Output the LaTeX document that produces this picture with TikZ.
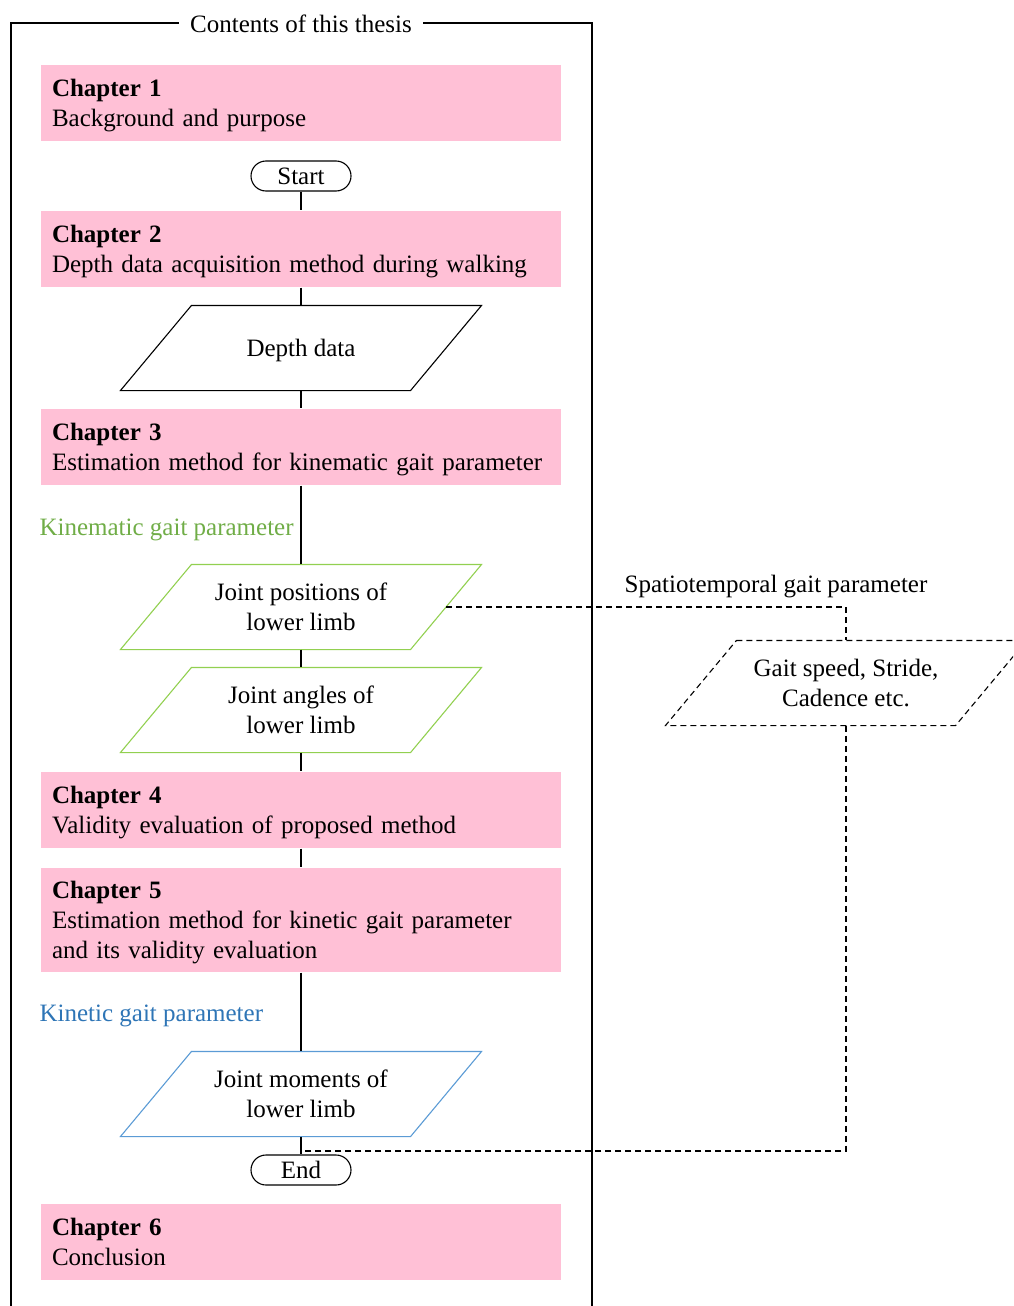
\documentclass[tikz,border=0pt]{standalone}
\usepackage{fontspec}
\setmainfont{Liberation Serif}
\definecolor{chpink}{RGB}{255,192,214}
\definecolor{kinemgreen}{RGB}{112,173,71}
\definecolor{kinemline}{RGB}{146,208,80}
\definecolor{kinetblue}{RGB}{46,117,182}
\definecolor{kinetline}{RGB}{91,155,213}
\tikzset{
  chapbox/.style={rectangle, fill=chpink, text width=498pt, inner xsep=11pt,
    minimum height=76pt, text height=22pt, align=left},
  terminal/.style={rectangle, draw, rounded corners=15pt, minimum width=100pt,
    minimum height=30pt, inner sep=0pt},
  databox/.style={rectangle, minimum width=289pt, minimum height=84pt,
    inner sep=0pt, text depth=-3.5pt, align=center,
    append after command={\pgfextra{\draw[#1]
      ([xshift=35.5pt]\tikzlastnode.north west) -- ([xshift=35.5pt]\tikzlastnode.north east)
      -- ([xshift=-35.5pt]\tikzlastnode.south east) -- ([xshift=-35.5pt]\tikzlastnode.south west)
      -- cycle;}}},
  databox/.default=black,
  sidelabel/.style={inner sep=0pt, text depth=0pt},
}
\begin{document}
\begin{tikzpicture}[x=1pt, y=-1pt, line width=1.1pt,
    font=\fontsize{25}{30}\selectfont]
    \useasboundingbox (0, 0) rectangle (1013, 1306);
    \clip (0, 0) rectangle (1013, 1306);
    % frame
    \draw (11, 1330) -- (11, 23) -- (592, 23) -- (592, 1330);
    \node[fill=white, inner xsep=11pt, inner ysep=2pt] (title) at (301, 24) {Contents of this thesis};
    % chapters
    \node[chapbox] (ch1) at (301, 103) {\textbf{Chapter 1}\\Background and purpose};
    \node[terminal] (start) at (301, 176) {Start};
    \node[chapbox] (ch2) at (301, 249) {\textbf{Chapter 2}\\Depth data acquisition method during walking};
    \node[databox, text depth=0pt] (depth) at (301, 348) {Depth data};
    \node[chapbox] (ch3) at (301, 447) {\textbf{Chapter 3}\\Estimation method for kinematic gait parameter};
    \node[sidelabel, anchor=west, text=kinemgreen] (kinem) at (39, 527) {Kinematic gait parameter};
    \node[databox=kinemline] (jpos) at (301, 607) {Joint positions of\\lower limb};
    \node[databox=kinemline] (jang) at (301, 710) {Joint angles of\\lower limb};
    \node[chapbox] (ch4) at (301, 810) {\textbf{Chapter 4}\\Validity evaluation of proposed method};
    \node[chapbox, minimum height=104pt] (ch5) at (301, 920) {\textbf{Chapter 5}\\Estimation method for kinetic gait parameter\\and its validity evaluation};
    \node[sidelabel, anchor=west, text=kinetblue] (kinet) at (39, 1013) {Kinetic gait parameter};
    \node[databox=kinetline] (jmom) at (301, 1094) {Joint moments of\\lower limb};
    \node[terminal] (end) at (301, 1170) {End};
    \node[chapbox, text depth=35.4pt] (ch6) at (301, 1242) {\textbf{Chapter 6}\\Conclusion};
    % spatiotemporal branch
    \node[sidelabel] (spatio) at (776, 584) {Spatiotemporal gait parameter};
    \node[databox={dash pattern=on 6pt off 4pt}] (gait) at (846, 683) {Gait speed, Stride,\\Cadence etc.};
    \coordinate (merge) at (301, 1151);
    % connectors
    \draw (start) -- (ch2);
    \draw (ch2) -- (depth);
    \draw (depth) -- (ch3);
    \draw (ch3) -- (jpos);
    \draw (jpos) -- (jang);
    \draw (jang) -- (ch4);
    \draw (ch4) -- (ch5);
    \draw (ch5) -- (jmom);
    \draw (jmom) -- (end);
    \draw[dash pattern=on 6pt off 4pt] (jpos.east) -| (gait.north);
    \draw[dash pattern=on 6pt off 4pt] (gait.south) |- (merge);
\end{tikzpicture}
\end{document}
